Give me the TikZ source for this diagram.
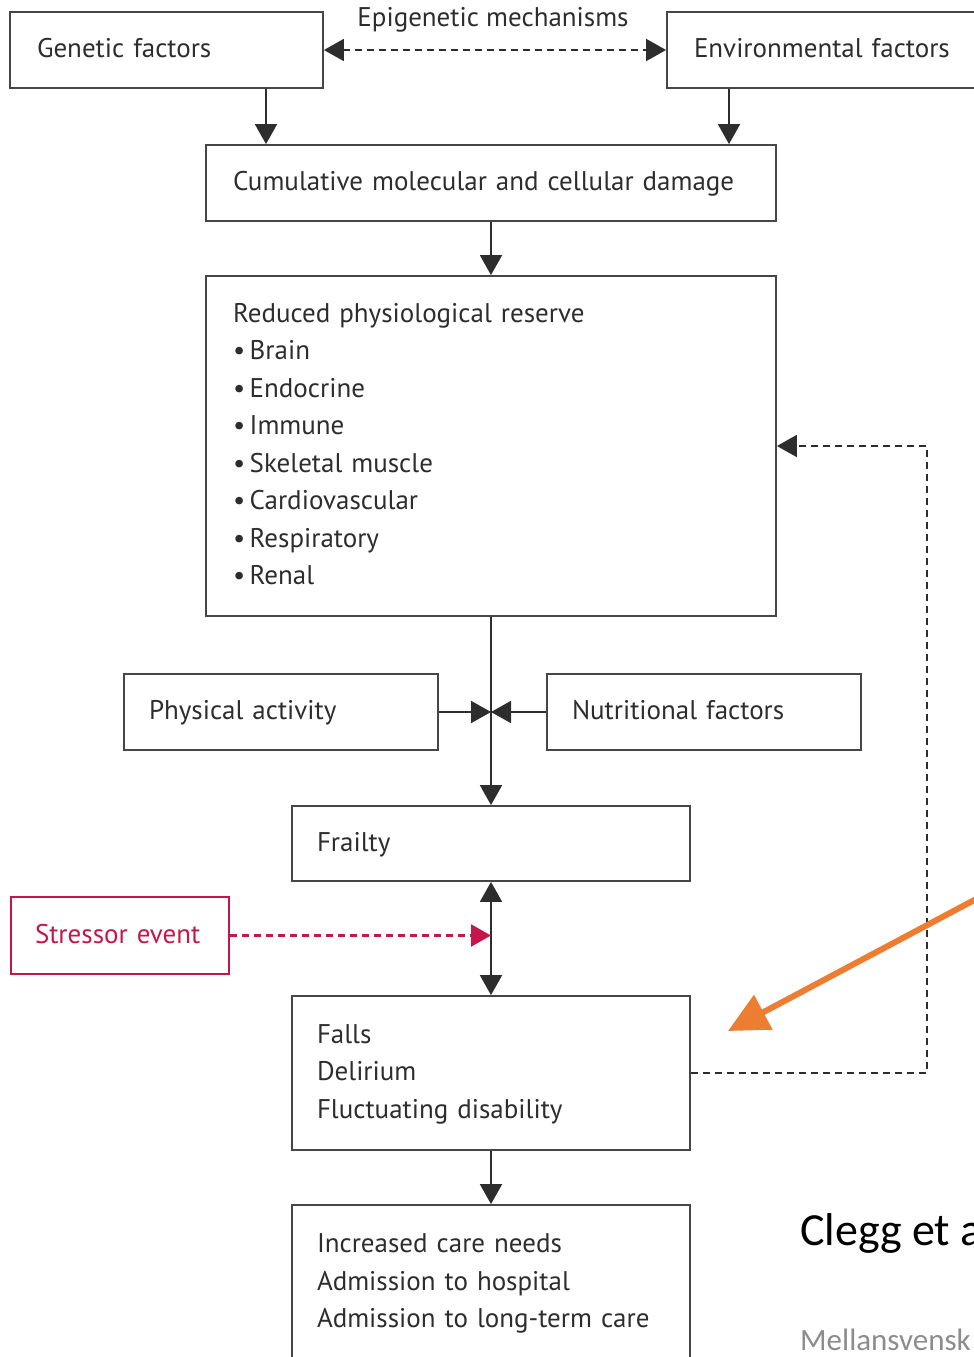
\documentclass[tikz,border=0pt]{standalone}
\usepackage{fontspec}
\setmainfont{PT Sans}
\newfontfamily\calfont{Carlito}
\usetikzlibrary{arrows.meta,calc}
\definecolor{ink}{RGB}{45,45,45}
\definecolor{boxline}{RGB}{70,70,70}
\definecolor{stresscol}{RGB}{196,22,74}
\definecolor{orangearr}{RGB}{237,125,49}
\definecolor{greytext}{RGB}{140,140,140}
\begin{document}
\begin{tikzpicture}[x=1pt,y=-1pt,
  box/.style={draw=boxline, line width=1.8pt, text=ink, font=\fontsize{27}{37.5}\selectfont, align=left, inner xsep=27pt, inner ysep=0pt, execute at begin node=\strut, execute at end node=\strut},
  stressbox/.style={box, draw=stresscol, text=stresscol},
  conn/.style={draw=ink, line width=1.8pt},
  dashpat/.style={dash pattern=on 7pt off 5pt},
  tip/.style={-{Triangle[length=20pt,width=22pt]}},
  tipboth/.style={{Triangle[length=20pt,width=22pt]}-{Triangle[length=20pt,width=22pt]}}]
\useasboundingbox (0,0) rectangle (974,1357);
\clip (0,0) rectangle (974,1357);
% boxes
\node[box, text width=259pt, minimum height=76pt] (gen) at (166.5,50) {Genetic factors};
\node[box, text width=259pt, minimum height=76pt] (env) at (823.5,50) {Environmental factors};
\node[text=ink, font=\fontsize{27}{37.5}\selectfont, inner sep=0pt] (epi) at (493,20) {Epigenetic mechanisms};
\node[box, text width=516pt, minimum height=76pt] (cum) at (491,183) {Cumulative molecular and cellular damage};
\node[box, text width=516pt, minimum height=340pt] (red) at (491,446) {Reduced physiological reserve\\
\textbullet\,Brain\\ \textbullet\,Endocrine\\ \textbullet\,Immune\\ \textbullet\,Skeletal muscle\\ \textbullet\,Cardiovascular\\ \textbullet\,Respiratory\\ \textbullet\,Renal};
\node[box, inner xsep=25pt, text width=264pt, minimum height=76pt] (phys) at (281,712) {Physical activity};
\node[box, inner xsep=25pt, text width=264pt, minimum height=76pt] (nut) at (704,712) {Nutritional factors};
\node[box, inner xsep=25pt, text width=348pt, minimum height=75pt] (frail) at (491,843.5) {Frailty};
\node[stressbox, inner xsep=24pt, text width=170pt, minimum height=77pt] (stress) at (120,935.5) {Stressor event};
\node[box, inner xsep=25pt, text width=348pt, minimum height=154pt] (falls) at (491,1073) {Falls\\ Delirium\\ Fluctuating disability};
\node[box, inner xsep=25pt, text width=348pt, minimum height=155pt] (care) at (491,1282.5) {Increased care needs\\ Admission to hospital\\ Admission to long-term care};
% helper coordinates
\coordinate (g1) at (266,0);
\coordinate (e1) at (729,0);
\coordinate (fb) at (927,0);
\coordinate (jn) at (red.south |- phys.east);
% connectors
\draw[conn, dashpat, tipboth] (gen.east) -- (env.west);
\draw[conn, tip] (gen.south -| g1) -- (cum.north -| g1);
\draw[conn, tip] (env.south -| e1) -- (cum.north -| e1);
\draw[conn, tip] (cum.south) -- (red.north);
\draw[conn, tip] (red.south) -- (frail.north);
\draw[conn, tip] (phys.east) -- (jn);
\draw[conn, tip] (nut.west) -- (jn);
\draw[conn, tipboth] (frail.south) -- (falls.north);
\draw[draw=stresscol, line width=2.2pt, dashpat, tip] (stress.east) -- (stress.east -| frail.south);
\draw[conn, tip] (falls.south) -- (care.north);
\draw[conn, dashpat, tip] (falls.east) -- (falls.east -| fb) -- (red.east -| fb) -- (red.east);
% annotation arrow and texts
\coordinate (o1) at (995,889);
\coordinate (o2) at (728,1031);
\draw[orangearr, line width=6pt, -{Triangle[length=40pt,width=38pt]}] (o1) -- (o2);
\node[anchor=base west, font=\calfont\fontsize{46}{46}\selectfont, inner sep=0pt] (clegg) at (800,1245) {Clegg et a};
\node[anchor=base west, font=\calfont\fontsize{31}{31}\selectfont, text=greytext, inner sep=0pt] (mell) at (800,1350) {Mellansvensk};
\end{tikzpicture}
\end{document}
